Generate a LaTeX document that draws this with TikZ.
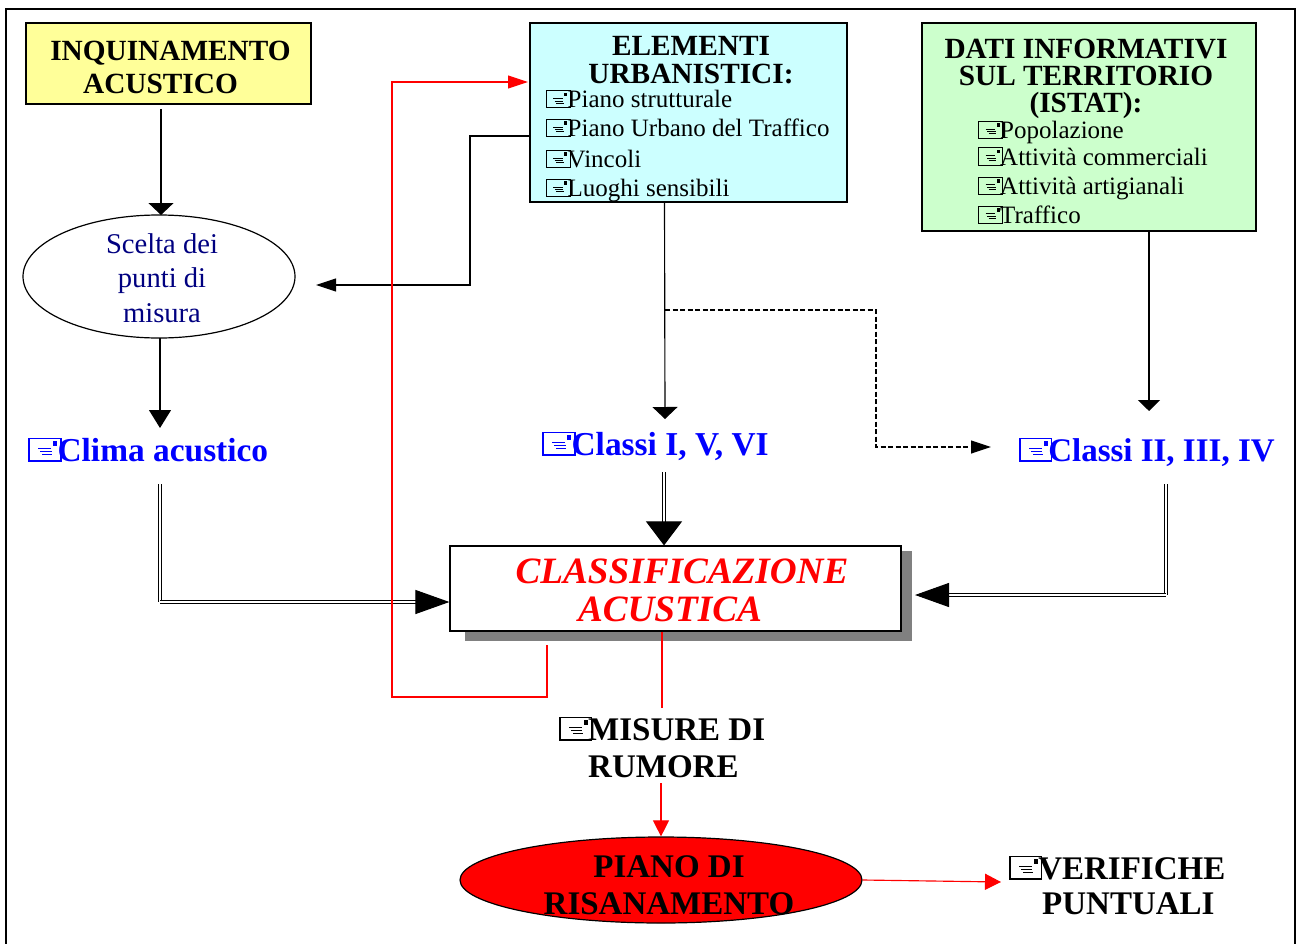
\documentclass[tikz,border=0pt]{standalone}
\usepackage{fontspec}
\setmainfont{Liberation Serif}
\usetikzlibrary{arrows.meta}
\usetikzlibrary{shapes.geometric}

\definecolor{boxyellow}{HTML}{FFFF99}
\definecolor{boxcyan}{HTML}{CCFFFF}
\definecolor{boxgreen}{HTML}{CCFFCC}
\definecolor{darktext}{HTML}{000080}

% little note symbol in front of the list entries
\newcommand{\NoteIcon}{\tikz[baseline=0pt, x=1em, y=1em]{
	\draw[line width=0.04em] (0,0) rectangle (0.96,0.68);
	\fill (0.72,0.46) rectangle (0.85,0.60);
	\draw[line width=0.03em] (0.28,0.37) -- (0.66,0.37);
	\draw[line width=0.03em] (0.34,0.28) -- (0.68,0.28);
	\draw[line width=0.03em] (0.40,0.19) -- (0.70,0.19);
}\kern-0.12em}

\begin{document}
\begin{tikzpicture}[x=1pt, y=-1pt]

\useasboundingbox (0, 0) rectangle (1297, 944);

\def\SmallSize{\fontsize{25}{27}\selectfont}
\def\TitleSize{\fontsize{29.3}{28}\selectfont\bfseries}
\def\LabelSize{\fontsize{33}{37}\selectfont\bfseries}

% Styles
\tikzstyle{box} =
	[draw, line width=1.2pt, inner sep=0pt, text centered]

\tikzstyle{title} =
	[font=\TitleSize, align=center, inner sep=0pt]

\tikzstyle{item} =
	[font=\SmallSize, anchor=base west, inner sep=0pt]

\tikzstyle{label} =
	[font=\LabelSize, anchor=base west, inner sep=0pt]

\tikzstyle{edge} =
	[line width=1.15pt]

\tikzstyle{redge} =
	[line width=1.15pt, red]

\tikzstyle{double edge} =
	[line width=1.1pt, double, double distance=2.5pt]

% Frame
\draw[line width=2.5pt] (6, 944) -- (6, 9) -- (1295, 9) -- (1295, 944);

% Modules

\node (Inquinamento) at (168.5, 63.5)
	[box, fill=boxyellow, minimum width=285pt, minimum height=81pt] {};
\node[title, font=\fontsize{29.3}{33}\selectfont\bfseries] (InquinamentoText) at (170.5, 67.5)
	{INQUINAMENTO\\ACUSTICO\hspace*{20pt}};

\node (Elementi) at (688.5, 112.5)
	[box, fill=boxcyan, minimum width=317pt, minimum height=179pt] {};
\node[title] (ElementiText) at (691, 60.5) {ELEMENTI\\URBANISTICI:};
\node[item] (ItemPiano) at (545.5, 108) {\NoteIcon Piano strutturale};
\node[item] (ItemTraffico) at (545.5, 136.5) {\NoteIcon Piano Urbano del Traffico};
\node[item] (ItemVincoli) at (545.5, 167.5) {\NoteIcon Vincoli};
\node[item] (ItemLuoghi) at (545.5, 196.5) {\NoteIcon Luoghi sensibili};

\node (Dati) at (1089, 127)
	[box, fill=boxgreen, minimum width=334pt, minimum height=208pt] {};
\node[title, font=\fontsize{29.3}{27}\selectfont\bfseries] (DatiText) at (1086, 78.5) {DATI INFORMATIVI\\SUL TERRITORIO\\(ISTAT):};
\node[item] (ItemPopolazione) at (978, 138.5) {\NoteIcon Popolazione};
\node[item] (ItemCommerciali) at (978, 165) {\NoteIcon Attività commerciali};
\node[item] (ItemArtigianali) at (978, 194) {\NoteIcon Attività artigianali};
\node[item] (ItemTraffic) at (978, 223) {\NoteIcon Traffico};

\node (Scelta) at (159, 276.5)
	[draw, ellipse, line width=1.2pt, minimum width=272pt, minimum height=123pt, inner sep=0pt] {};
\node[font=\fontsize{28.6}{34.5}\selectfont, text=darktext, align=center, inner sep=0pt] (SceltaText) at (162, 278)
	{Scelta dei\\punti di\\misura};

\node[label, font=\fontsize{33.4}{37}\selectfont\bfseries, text=blue] (Clima) at (28, 461) {\NoteIcon Clima acustico};
\node[label, font=\fontsize{33.4}{37}\selectfont\bfseries, text=blue] (ClassiA) at (542, 455) {\NoteIcon Classi I, V, VI};
\node[label, text=blue] (ClassiB) at (1019, 461) {\NoteIcon Classi II, III, IV};

\fill[gray] (465, 551) rectangle (912, 641);
\node (Classificazione) at (675.5, 588.5)
	[box, fill=white, minimum width=451pt, minimum height=85pt] {};
\node[font=\fontsize{37.2}{38}\selectfont\bfseries\itshape, text=red, align=center, inner sep=0pt] (ClassificazioneText) at (676, 590)
	{\hspace*{12pt}CLASSIFICAZIONE\\ACUSTICA\hspace*{12pt}};

\node[label] (Misure) at (559, 740) {\NoteIcon MISURE DI};
\node[label] (Rumore) at (588, 777) {RUMORE};

\node (Piano) at (661, 880)
	[draw, ellipse, fill=red, line width=1.2pt, minimum width=402pt, minimum height=86pt, inner sep=0pt] {};
\node[font=\LabelSize, align=center, inner sep=0pt] (PianoText) at (669, 885)
	{PIANO DI\\RISANAMENTO};

\node[label] (Verifiche) at (1009, 879) {\NoteIcon VERIFICHE};
\node[label] (Puntuali) at (1042, 914) {PUNTUALI};

% Free ends of the edges
\coordinate (SceltaIn) at (316, 285);
\coordinate (InquinamentoOut) at (161, 109);
\coordinate (SceltaTop) at (161, 215);
\coordinate (ElementiOut) at (530, 136);
\coordinate (ElementiBend) at (470, 136);
\coordinate (SceltaBend) at (470, 285);
\coordinate (ElementiDown) at (664.5, 202);
\coordinate (ClassiAIn) at (665, 419);
\coordinate (DatiOut) at (1149, 231);
\coordinate (ClassiBIn) at (1149, 411);
\coordinate (ClimaIn) at (160, 428);
\coordinate (SceltaOut) at (160, 338);
\coordinate (RedStart) at (547, 645);
\coordinate (RedCorner) at (392, 697);
\coordinate (RedEnd) at (528, 82);
\coordinate (RedTop) at (662, 708);
\coordinate (RedDown) at (661, 783);
\coordinate (DashStart) at (665, 310);
\coordinate (DashBendA) at (876, 310);
\coordinate (DashBendB) at (876, 447);
\coordinate (DashEnd) at (991, 447);
\coordinate (VerificheIn) at (1001, 882);
\coordinate (ClimaOut) at (160, 484);
\coordinate (ClimaCorner) at (160, 602);
\coordinate (ClassiAOut) at (664, 472);
\coordinate (ClassiBOut) at (1166, 484);
\coordinate (ClassiBCorner) at (1166, 595);
\coordinate (ClassiBEnd) at (915, 595);

% Edges

\tikzstyle{thin head} = [-{Triangle[length=12pt, width=25pt]}]
\tikzstyle{side head} = [-{Triangle[length=20pt, width=13pt]}]
\tikzstyle{big head} = [-{Triangle[length=34pt, width=24pt]}]

\draw[edge, thin head] (InquinamentoOut) -- (SceltaTop);
\draw[edge, -{Triangle[length=18pt, width=22pt]}] (SceltaOut) -- (ClimaIn);
\draw[edge, side head]
	(ElementiOut) -- (ElementiBend) -- (SceltaBend) -- (SceltaIn);
\draw[edge, thin head] (ElementiDown) -- (ClassiAIn);
\draw[edge, -{Triangle[length=11pt, width=22pt]}] (DatiOut) -- (ClassiBIn);
\draw[edge, side head, dash pattern=on 5pt off 2.5pt]
	(DashStart) -- (DashBendA) -- (DashBendB) -- (DashEnd);

\draw[double edge] (ClimaOut) -- (ClimaCorner);
\draw[double edge, big head] (ClimaCorner) -- (Classificazione.west |- ClimaCorner);
\draw[double edge, -{Triangle[length=24pt, width=36pt]}] (ClassiAOut) -- (ClassiAOut |- Classificazione.north);
\draw[double edge] (ClassiBOut) -- (ClassiBCorner);
\draw[double edge, big head] (ClassiBCorner) -- (ClassiBEnd);

\draw[redge, side head]
	(RedStart) -- (RedStart |- RedCorner) -- (RedCorner) -- (RedCorner |- RedEnd) -- (RedEnd);
\draw[redge] (Classificazione.south -| RedTop) -- (RedTop);
\draw[redge, -{Triangle[length=16pt, width=16pt]}] (RedDown) -- (Piano.north);
\draw[redge, -{Triangle[length=16pt, width=16pt]}] (Piano.east) -- (VerificheIn);

\end{tikzpicture}
\end{document}
